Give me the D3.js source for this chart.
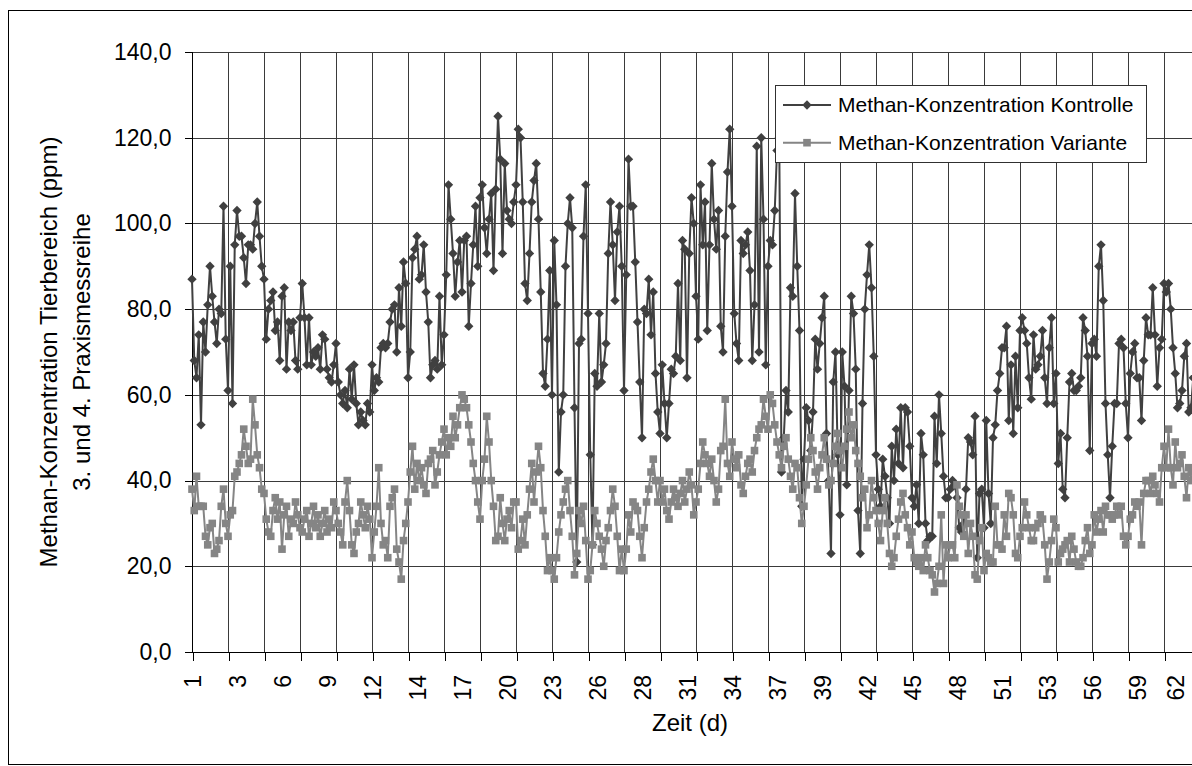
<!DOCTYPE html>
<html>
<head>
<meta charset="utf-8">
<script src="https://cdn.jsdelivr.net/npm/d3@7"></script>
<style>
  html, body { margin: 0; padding: 0; background: #fff; }
  svg { display: block; font-family: "Liberation Sans", Arial, sans-serif; }
</style>
</head>
<body>
<svg id="chart" width="1192" height="766"></svg>
<script>
// Tick labels of the day axis (one label every 20 measurements)
const dayLabels = [1, 3, 6, 9, 12, 14, 17, 20, 23, 26, 28, 31, 34, 37, 39, 42, 45, 48, 51, 53, 56, 59, 62];

// Methane concentration, control barn (ppm), one value per measurement
const kontrolle = [
  87, 68, 64, 74, 53, 77, 70, 81, 90, 83, 77, 72, 80, 79, 104, 73,
  61, 90, 58, 95, 103, 97, 97, 92, 86, 95, 95, 94, 100, 105, 97, 90,
  87, 73, 80, 82, 84, 75, 77, 68, 83, 85, 66, 77, 75, 77, 68, 66,
  78, 86, 78, 67, 78, 67, 70, 69, 71, 66, 74, 73, 66, 64, 63, 67,
  72, 63, 60, 58, 61, 57, 66, 59, 67, 58, 53, 56, 54, 53, 58, 56,
  67, 61, 64, 63, 71, 72, 71, 72, 77, 80, 81, 70, 85, 76, 91, 86,
  64, 70, 92, 94, 97, 87, 88, 95, 84, 77, 64, 67, 68, 66, 83, 67,
  74, 88, 109, 101, 93, 83, 91, 96, 84, 96, 97, 76, 86, 95, 104, 90,
  106, 109, 99, 93, 101, 107, 89, 108, 125, 115, 93, 114, 103, 101, 100, 105,
  109, 122, 120, 105, 86, 82, 93, 105, 110, 114, 101, 84, 65, 62, 73, 89,
  60, 96, 81, 42, 56, 60, 90, 100, 106, 99, 57, 21, 72, 73, 97, 109,
  79, 46, 25, 65, 62, 79, 63, 67, 72, 93, 105, 95, 82, 98, 104, 90,
  61, 88, 115, 104, 104, 91, 77, 63, 50, 80, 79, 87, 74, 84, 65, 56,
  51, 67, 58, 50, 58, 66, 65, 69, 86, 68, 96, 94, 64, 93, 106, 100,
  83, 73, 109, 95, 105, 75, 95, 114, 101, 94, 103, 76, 70, 97, 112, 122,
  104, 79, 72, 68, 96, 93, 95, 98, 89, 68, 81, 118, 70, 120, 101, 67,
  90, 96, 95, 103, 117, 120, 42, 50, 61, 56, 85, 83, 107, 90, 75, 34,
  45, 57, 54, 47, 56, 73, 66, 72, 78, 83, 51, 40, 23, 63, 70, 46,
  32, 70, 62, 39, 61, 83, 79, 66, 33, 23, 58, 80, 88, 95, 85, 69,
  46, 38, 34, 45, 41, 36, 30, 48, 40, 52, 44, 57, 43, 57, 56, 48,
  36, 34, 39, 30, 51, 46, 30, 26, 27, 27, 55, 44, 60, 51, 41, 36,
  36, 38, 40, 39, 36, 29, 28, 30, 38, 50, 49, 46, 55, 22, 37, 38,
  29, 54, 37, 30, 50, 53, 61, 65, 71, 71, 76, 54, 67, 51, 69, 57,
  75, 78, 75, 72, 64, 59, 74, 66, 67, 69, 75, 64, 58, 71, 78, 58,
  65, 44, 51, 38, 36, 50, 63, 65, 61, 61, 62, 64, 78, 75, 69, 47,
  72, 73, 69, 90, 95, 82, 58, 46, 36, 48, 58, 58, 72, 73, 71, 58,
  50, 65, 70, 72, 64, 64, 54, 68, 78, 74, 74, 85, 74, 62, 71, 73,
  86, 84, 86, 80, 71, 65, 57, 58, 61, 69, 72, 56, 57, 64
];

// Methane concentration, trial variant (ppm)
const variante = [
  38, 33, 41, 34, 34, 34, 27, 25, 29, 30, 23, 24, 26, 34, 38, 30,
  27, 32, 33, 41, 42, 44, 46, 52, 48, 44, 45, 59, 53, 46, 43, 38,
  37, 31, 28, 27, 33, 36, 31, 35, 24, 32, 34, 27, 31, 30, 35, 32,
  29, 28, 31, 33, 27, 30, 34, 29, 32, 27, 30, 33, 28, 31, 29, 35,
  33, 30, 28, 25, 35, 40, 33, 25, 23, 28, 30, 35, 32, 29, 34, 31,
  22, 28, 34, 43, 30, 25, 26, 22, 34, 36, 38, 24, 21, 17, 26, 30,
  35, 42, 48, 38, 44, 40, 43, 39, 37, 44, 45, 47, 39, 42, 46, 49,
  52, 46, 50, 48, 55, 50, 53, 57, 60, 59, 57, 53, 49, 44, 40, 35,
  31, 40, 45, 55, 49, 40, 34, 26, 27, 36, 30, 26, 31, 33, 29, 35,
  35, 24, 26, 31, 25, 32, 38, 44, 35, 42, 48, 43, 33, 27, 19, 22,
  19, 17, 22, 28, 32, 35, 38, 40, 33, 27, 18, 23, 33, 30, 34, 26,
  17, 19, 25, 33, 30, 27, 24, 20, 26, 29, 33, 38, 34, 27, 19, 24,
  19, 24, 32, 28, 35, 34, 33, 27, 22, 29, 35, 38, 42, 45, 40, 35,
  40, 35, 38, 33, 31, 35, 38, 36, 34, 37, 40, 35, 38, 42, 39, 32,
  35, 38, 44, 49, 46, 44, 41, 45, 40, 35, 38, 47, 48, 59, 44, 41,
  49, 45, 43, 46, 39, 37, 41, 44, 45, 42, 47, 50, 52, 53, 59, 55,
  52, 60, 58, 53, 49, 46, 43, 48, 50, 45, 41, 38, 44, 43, 36, 30,
  34, 39, 45, 50, 47, 42, 38, 43, 46, 50, 45, 39, 40, 44, 48, 51,
  47, 43, 48, 52, 56, 50, 53, 47, 44, 41, 36, 38, 29, 32, 40, 36,
  33, 30, 26, 33, 36, 30, 23, 20, 22, 27, 31, 35, 37, 32, 29, 25,
  28, 22, 21, 20, 22, 19, 25, 22, 19, 18, 14, 16, 20, 32, 16, 25,
  22, 25, 25, 22, 39, 34, 32, 27, 32, 23, 30, 27, 18, 17, 26, 29,
  19, 23, 22, 21, 21, 34, 25, 25, 24, 32, 27, 37, 36, 32, 23, 22,
  27, 29, 35, 32, 29, 26, 26, 29, 30, 32, 31, 25, 17, 21, 26, 31,
  29, 21, 23, 24, 25, 26, 21, 27, 24, 21, 20, 20, 22, 26, 29, 23,
  25, 32, 28, 31, 33, 28, 34, 32, 32, 31, 32, 34, 32, 34, 27, 25,
  27, 31, 32, 35, 34, 35, 25, 37, 40, 40, 37, 41, 39, 37, 35, 43,
  48, 43, 52, 43, 39, 49, 43, 44, 46, 41, 36, 43, 40, 42
];

const seriesNames = ["Methan-Konzentration Kontrolle", "Methan-Konzentration Variante"];
const yTicks = [0, 20, 40, 60, 80, 100, 120, 140];
const TICK_EVERY = 16;   // measurements between tick marks / gridlines
const LABEL_EVERY = 20;  // measurements between day labels

const svg = d3.select("#chart");
const plotLeft = 192, plotTop = 52, plotBottom = 652;
const step = 2.25;
const n = kontrolle.length;

const x = d3.scaleLinear().domain([0, n - 1]).range([plotLeft, plotLeft + (n - 1) * step]);
const y = d3.scaleLinear().domain([0, 140]).range([plotBottom, plotTop]);
const plotRight = x(n - 1);

// chart area frame
svg.append("rect").attr("x", 8.5).attr("y", 10.5).attr("width", 1210).attr("height", 754)
  .attr("fill", "#fff").attr("stroke", "#000").attr("stroke-width", 1);

// gridlines
const grid = svg.append("g").attr("shape-rendering", "crispEdges");
grid.selectAll("line.h").data(yTicks.filter(d => d > 0)).join("line")
  .attr("x1", plotLeft).attr("x2", plotRight)
  .attr("y1", d => Math.round(y(d)) + 0.5).attr("y2", d => Math.round(y(d)) + 0.5)
  .attr("stroke", "#3a3a3a").attr("stroke-width", 1);
const vTicks = d3.range(TICK_EVERY, n, TICK_EVERY);
grid.selectAll("line.v").data(vTicks).join("line")
  .attr("x1", d => Math.round(x(d)) + 0.5).attr("x2", d => Math.round(x(d)) + 0.5)
  .attr("y1", plotTop).attr("y2", plotBottom)
  .attr("stroke", "#3a3a3a").attr("stroke-width", 1);

// y axis
const fmt = d => d3.format(".1f")(d).replace(".", ",");
const yAxis = svg.append("g").attr("transform", `translate(${plotLeft + 0.5},0)`)
  .call(d3.axisLeft(y).tickValues(yTicks).tickSize(8).tickPadding(13).tickFormat(fmt));
yAxis.selectAll("path, line").attr("stroke", "#000").attr("shape-rendering", "crispEdges");
yAxis.select(".domain").attr("d", `M0,${plotTop}V${plotBottom}`);
yAxis.selectAll("text").attr("font-size", 23).attr("fill", "#000")
  .attr("font-family", "Liberation Sans, Arial, sans-serif");

// x axis: tick marks every TICK_EVERY measurements
const xAxis = svg.append("g").attr("transform", `translate(0,${plotBottom + 0.5})`)
  .call(d3.axisBottom(x).tickValues(d3.range(0, n, TICK_EVERY)).tickSize(8).tickFormat(""));
xAxis.selectAll("path, line").attr("stroke", "#000").attr("shape-rendering", "crispEdges");
xAxis.select(".domain").attr("d", `M${plotLeft},0H${plotRight}`);
xAxis.selectAll(".tick line").attr("transform", "translate(0.5,0)");

// x axis: day labels every LABEL_EVERY measurements, rotated
const labelIdx = dayLabels.map((d, i) => i * LABEL_EVERY);
const xLab = svg.append("g").attr("transform", `translate(0,${plotBottom})`)
  .call(d3.axisBottom(x).tickValues(labelIdx).tickSize(0)
    .tickFormat((d, i) => dayLabels[i]));
xLab.select(".domain").remove();
xLab.selectAll("text")
  .attr("font-size", 23).attr("fill", "#000")
  .attr("font-family", "Liberation Sans, Arial, sans-serif")
  .attr("text-anchor", "end")
  .attr("dy", null).attr("y", null)
  .attr("transform", (d, i) => `translate(${i === dayLabels.length - 1 ? -7 : 0},23) rotate(-90)`)
  .attr("dominant-baseline", "central");

// axis titles
svg.append("text").attr("x", 690).attr("y", 731).attr("text-anchor", "middle")
  .attr("font-size", 24).text("Zeit (d)");
const yt = svg.append("text").attr("transform", "translate(0,352) rotate(-90)")
  .attr("text-anchor", "middle").attr("font-size", 24);
yt.append("tspan").attr("x", 0).attr("y", 57).text("Methan-Konzentration Tierbereich (ppm)");
yt.append("tspan").attr("x", 0).attr("y", 90).text("3. und 4. Praxismessreihe");

// series
const plot = svg.append("g");
const diamond = r => `M0,${-r}L${r},0L0,${r}L${-r},0Z`;
const styles = [
  { data: kontrolle, color: "#404040", marker: "diamond" },
  { data: variante, color: "#858585", marker: "square" }
];
const line = d3.line().x((d, i) => x(i)).y(d => y(d));
styles.forEach(s => {
  plot.append("path").attr("d", line(s.data)).attr("fill", "none")
    .attr("stroke", s.color).attr("stroke-width", 2).attr("stroke-linejoin", "round");
  const g = plot.append("g").attr("fill", s.color);
  if (s.marker === "diamond") {
    g.selectAll("path").data(s.data).join("path")
      .attr("transform", (d, i) => `translate(${x(i)},${y(d)})`)
      .attr("d", diamond(4.7));
  } else {
    g.selectAll("rect").data(s.data).join("rect")
      .attr("x", (d, i) => x(i) - 3.8).attr("y", d => y(d) - 3.8)
      .attr("width", 7.6).attr("height", 7.6);
  }
});

// legend
const lg = svg.append("g");
lg.append("rect").attr("x", 775.5).attr("y", 85.5).attr("width", 371).attr("height", 77)
  .attr("fill", "#fff").attr("stroke", "#303030").attr("stroke-width", 1);
styles.forEach((s, k) => {
  const cy = 105 + k * 37.7;
  lg.append("line").attr("x1", 783).attr("x2", 831).attr("y1", cy).attr("y2", cy)
    .attr("stroke", s.color).attr("stroke-width", 2);
  if (s.marker === "diamond") {
    lg.append("path").attr("transform", `translate(807,${cy})`).attr("d", diamond(4.7)).attr("fill", s.color);
  } else {
    lg.append("rect").attr("x", 807 - 3.8).attr("y", cy - 3.8).attr("width", 7.6).attr("height", 7.6).attr("fill", s.color);
  }
  lg.append("text").attr("x", 838).attr("y", cy).attr("dy", "0.35em")
    .attr("font-size", 21).text(seriesNames[k]);
});
</script>
</body>
</html>
